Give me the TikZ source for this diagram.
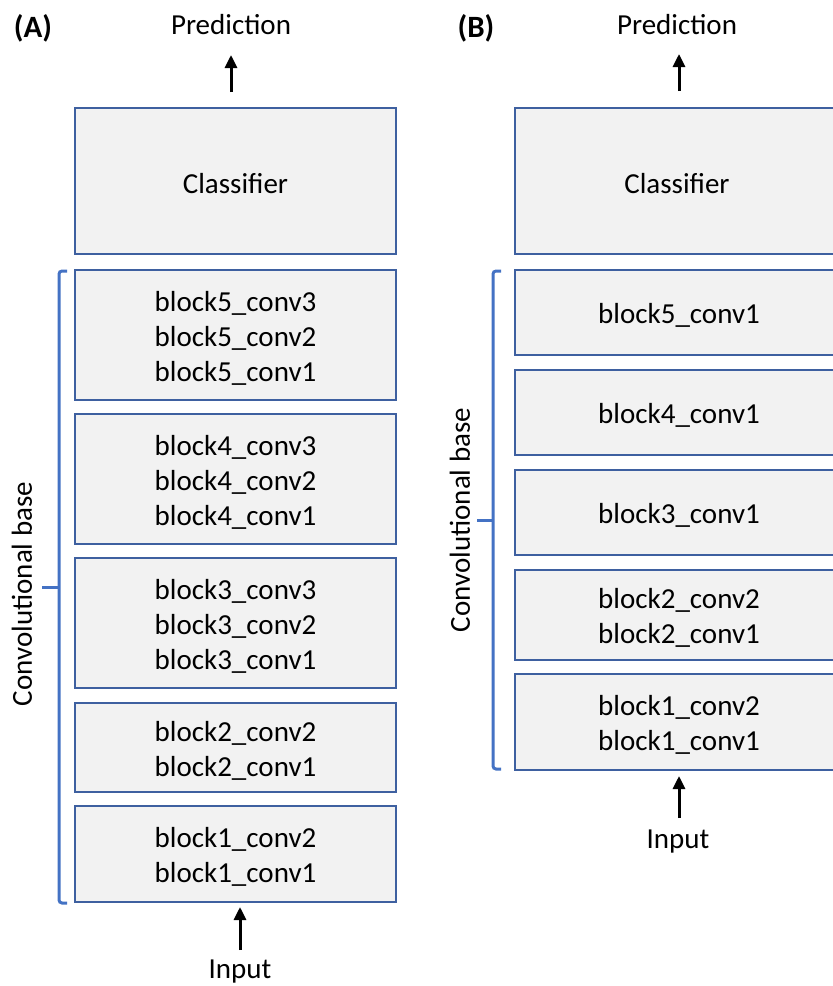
\documentclass[tikz,border=0pt]{standalone}
\usepackage{fontspec}
\setmainfont{Carlito}
\usetikzlibrary{arrows.meta}
\definecolor{boxedge}{RGB}{62,96,160}
\definecolor{boxfill}{RGB}{242,242,242}
\definecolor{brk}{RGB}{68,114,196}
\tikzset{
  blk/.style={draw=boxedge, fill=boxfill, line width=1.2pt, inner sep=0pt},
  txt/.style={inner sep=0pt, align=center, font=\fontsize{29}{35}\selectfont},
  lbl/.style={inner sep=0pt, font=\fontsize{29}{35}\selectfont},
  ttl/.style={inner sep=0pt, font=\fontsize{31}{35}\selectfont\bfseries},
  arr/.style={line width=3pt, -{Triangle[length=13pt,width=12pt]}},
  bracket/.style={draw=brk, line width=3pt, rounded corners=3pt},
}
\begin{document}
\begin{tikzpicture}[x=1pt,y=-1pt]
\clip (0,0) rectangle (833,986);
\fill[white] (0,0) rectangle (833,986);
% ---------- (A) ----------
\node[ttl] (tA) at (33,28) {(A)};
\node[lbl] (predA) at (231,25) {Prediction};
\node[blk, minimum width=321pt, minimum height=146pt] (clsA) at (235.5,181) {};
\node[txt] (clsAt) at (235.5,184) {Classifier};
\node[blk, minimum width=321pt, minimum height=130pt] (b5A) at (235.5,335) {};
\node[txt] (b5At) at (235.5,338) {block5\_conv3\\block5\_conv2\\block5\_conv1};
\node[blk, minimum width=321pt, minimum height=130pt] (b4A) at (235.5,479) {};
\node[txt] (b4At) at (235.5,482) {block4\_conv3\\block4\_conv2\\block4\_conv1};
\node[blk, minimum width=321pt, minimum height=130pt] (b3A) at (235.5,623) {};
\node[txt] (b3At) at (235.5,626) {block3\_conv3\\block3\_conv2\\block3\_conv1};
\node[blk, minimum width=321pt, minimum height=89pt] (b2A) at (235.5,747.5) {};
\node[txt] (b2At) at (235.5,750.5) {block2\_conv2\\block2\_conv1};
\node[blk, minimum width=321pt, minimum height=96pt] (b1A) at (235.5,854) {};
\node[txt] (b1At) at (235.5,857) {block1\_conv2\\block1\_conv1};
\node[lbl] (inA) at (240,972) {Input};
\coordinate (aTopS) at (231,92);
\coordinate (aTopE) at (231,55);
\draw[arr] (aTopS) -- (aTopE);
\coordinate (aBotS) at (240,950);
\coordinate (aBotE) at (240,907);
\draw[arr] (aBotS) -- (aBotE);
\draw[bracket] (67,271) -- (59,271) -- (59,903) -- (67,903);
\draw[draw=brk, line width=3pt] (59,587) -- (42,587);
\node[lbl, rotate=90] (cbA) at (22,594) {Convolutional base};
% ---------- (B) ----------
\node[ttl] (tB) at (476,28) {(B)};
\node[lbl] (predB) at (677,25) {Prediction};
\node[blk, minimum width=324pt, minimum height=146pt] (clsB) at (677,181) {};
\node[txt] (clsBt) at (677,184) {Classifier};
\node[blk, minimum width=324pt, minimum height=85pt] (b5B) at (677,312.5) {};
\node[txt] (b5Bt) at (679,315.5) {block5\_conv1};
\node[blk, minimum width=324pt, minimum height=85pt] (b4B) at (677,412.5) {};
\node[txt] (b4Bt) at (679,415.5) {block4\_conv1};
\node[blk, minimum width=324pt, minimum height=85pt] (b3B) at (677,512.5) {};
\node[txt] (b3Bt) at (679,515.5) {block3\_conv1};
\node[blk, minimum width=324pt, minimum height=90pt] (b2B) at (677,615) {};
\node[txt] (b2Bt) at (679,618) {block2\_conv2\\block2\_conv1};
\node[blk, minimum width=324pt, minimum height=96pt] (b1B) at (677,722) {};
\node[txt] (b1Bt) at (679,725) {block1\_conv2\\block1\_conv1};
\node[lbl] (inB) at (678,842) {Input};
\coordinate (bTopS) at (679,91);
\coordinate (bTopE) at (679,54);
\draw[arr] (bTopS) -- (bTopE);
\coordinate (bBotS) at (679,818);
\coordinate (bBotE) at (679,776);
\draw[arr] (bBotS) -- (bBotE);
\draw[bracket] (501,271) -- (493,271) -- (493,769) -- (501,769);
\draw[draw=brk, line width=3pt] (493,520) -- (477,520);
\node[lbl, rotate=90] (cbB) at (460,520) {Convolutional base};
\end{tikzpicture}
\end{document}
